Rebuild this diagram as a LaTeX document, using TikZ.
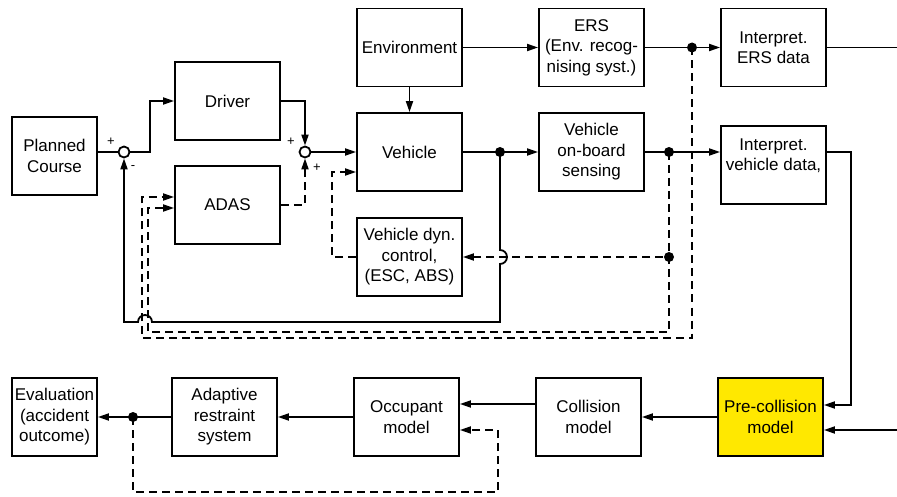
\documentclass[tikz,border=0pt]{standalone}
\usepackage{fontspec}
\setmainfont{Liberation Sans}
\usepackage{xcolor}
\usetikzlibrary{arrows.meta,positioning}
\definecolor{precol}{RGB}{255,232,0}

\begin{document}
\begin{tikzpicture}[x=1pt,y=1pt,>={Triangle[length=11pt,width=7pt]},line width=1.8pt,
node distance=182pt,
block/.style={draw,minimum width=105pt,minimum height=78pt,align=center,inner sep=1pt,font=\fontsize{17}{20.5}\selectfont},
sum node/.style={circle,draw,fill=white,minimum size=11pt,inner sep=0pt},
dot node/.style={circle,fill,minimum size=10pt,inner sep=0pt},
sign label/.style={font=\fontsize{13}{13}\selectfont,inner sep=0pt},
fb line/.style={dash pattern=on 8pt off 5pt}]

\useasboundingbox (0,0) rectangle (897,496);

% top part
\node[block] (veh) at (409.5,344) {Vehicle};
\node[block] (env) [node distance=104.5pt,above of=veh] {Environment};
\node[block] (vdc) [node distance=105pt,below of=veh] {Vehicle dyn.\\control,\\(ESC, ABS)};
\node[block] (vobs) [right of=veh] {Vehicle\\on-board\\sensing};
\node[block] (ers) [right of=env] {ERS\\(Env. recog-\\nising syst.)};
\node[block] (iers) [right of=ers] {Interpret.\\ERS data};
\node[block] (ivd) [right of=vobs,yshift=-13pt] {Interpret.\\vehicle data,\\~};
\node[sum node] (s2) [node distance=104.5pt,left of=veh] {};
\node[block] (driver) [left of=veh,yshift=51pt] {Driver};
\node[block] (adas) [left of=veh,yshift=-53pt] {ADAS};
\node[sum node] (s1) [node distance=181pt,left of=s2] {};
\node[block,minimum width=85pt] (pc) [node distance=69.5pt,left of=s1,yshift=-4pt] {Planned\\Course};

% bottom part
\node[block,fill=precol] (pre) at (770.5,79) {Pre-collision\\model};
\node[block] (coll) [left of=pre] {Collision\\model};
\node[block] (occ) [left of=coll] {Occupant\\model};
\node[block] (ars) [left of=occ] {Adaptive\\restraint\\system};
\node[block,minimum width=85pt] (eval) [node distance=170pt,left of=ars] {Evaluation\\(accident\\outcome)};

% branch points
\node[dot node] (d1) [node distance=100.5pt,right of=ers] {};
\node[dot node] (d2) [node distance=90.5pt,right of=veh] {};
\node[dot node] (d3) [node distance=77.5pt,right of=vobs] {};
\node[dot node] (d4) [node distance=105pt,below of=d3] {};
\node[dot node] (d5) [node distance=91.5pt,left of=ars] {};
\coordinate (ersout) at (897,448.5);
\coordinate (precin) at (897,66);

\node[sign label] (s1p) at ([shift={(-13,10)}]s1) {+};
\node[sign label] (s1m) at ([shift={(9,-16)}]s1) {-};
\node[sign label] (s2p) at ([shift={(-14,10)}]s2) {+};
\node[sign label] (s2q) at ([shift={(12,-16)}]s2) {+};

\path[->]
(env) edge (veh)
(env) edge (ers)
(ers) edge (iers)
(s2) edge (veh)
(veh) edge (vobs)
(pre) edge (coll)
(occ) edge (ars)
(ars) edge (eval);

\draw (pc.east |- s1) -- (s1);
\draw[->] (s1) -- ++(26,0) |- (driver);
\draw[->] (driver) -| (s2);
\draw[->,fb line] (adas) -| (s2);
\draw[->,fb line] (vdc) -- ++(-77.5,0) |- ([yshift=-20pt]veh.west);
\draw[->] (vobs) -- (vobs -| ivd.west);
\draw (iers) -- (ersout);
\draw[->] (ivd.east |- vobs) -- ++(24,0) |- ([yshift=12pt]pre.east);
\draw[->] (precin) -- (precin -| pre.east);
\draw[->] ([yshift=13pt]coll.west) -- ([yshift=13pt]coll.west -| occ.east);

% feedback loops
\draw[->] (d2.center) -- ++(0,-98) arc[start angle=90,end angle=-90,radius=7] -- ++(0,-58)
  -- ++(-348,0) arc[start angle=0,end angle=180,radius=7] -| (s1);
\draw[->,fb line] (d1.center) -- ++(0,-290.5) -- ++(-550,0) |- ([yshift=8pt]adas.west);
\draw[->,fb line] (d3.center) -- ++(0,-180) -- ++(-521,0) |- ([yshift=-3pt]adas.west);
\draw[->,fb line] (d4) -- (vdc);
\draw[->,fb line] (d5.center) -- ++(0,-75) -- ++(365,0) |- ([yshift=-13pt]occ.east);
\end{tikzpicture}
\end{document}
